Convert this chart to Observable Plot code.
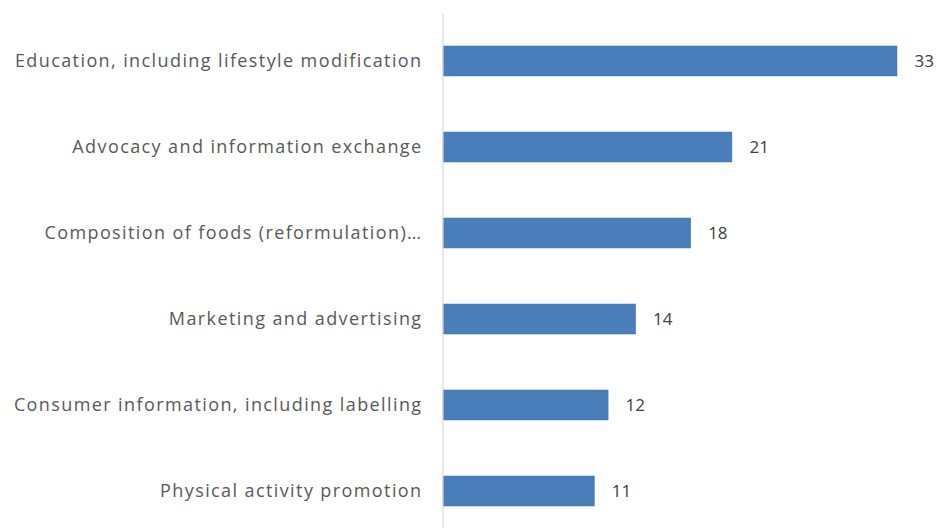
<!DOCTYPE html>
<html>
<head>
<meta charset="utf-8">
<script src="https://cdn.jsdelivr.net/npm/d3@7"></script>
<script src="https://cdn.jsdelivr.net/npm/@observablehq/plot@0.6"></script>
<style>
  html, body { margin: 0; padding: 0; background: #fff; }
  #chart { width: 937px; height: 528px; overflow: hidden; }
  .cat-label text { letter-spacing: 1.4px; }
</style>
</head>
<body>
<div id="chart"></div>
<script>
const categories = [
  "Education, including lifestyle modification",
  "Advocacy and information exchange",
  "Composition of foods (reformulation)…",
  "Marketing and advertising",
  "Consumer information, including labelling",
  "Physical activity promotion"
];
const values = [33, 21, 18, 14, 12, 11];

const data = categories.map((c, i) => ({category: c, value: values[i]}));

const chart = Plot.plot({
  width: 937,
  height: 528,
  marginTop: 14,
  marginBottom: 0,
  marginLeft: 443,
  marginRight: 40,
  style: {fontFamily: "Open Sans", fontSize: "16px", color: "#595959", background: "#fff"},
  x: {domain: [0, 33], range: [443, 897], axis: null},
  y: {domain: categories, range: [16.8, 535.2], paddingInner: 0.65, paddingOuter: 0.325, axis: null},
  marks: [
    Plot.barX(data, {x: "value", y: "category", fill: "#4a7ebb", stroke: "#3f6fa8", strokeWidth: 0.5}),
    Plot.ruleX([0], {stroke: "#d9d9d9", strokeWidth: 1.2, dx: -0.5}),
    Plot.text(data, {x: 0, y: "category", text: "category", textAnchor: "end", dx: -21, fill: "#595959", fontSize: 18, className: "cat-label"}),
    Plot.text(data, {x: "value", y: "category", text: d => String(d.value), textAnchor: "start", dx: 17, fill: "#404040", fontSize: 17})
  ]
});
document.getElementById("chart").appendChild(chart);
</script>
</body>
</html>
